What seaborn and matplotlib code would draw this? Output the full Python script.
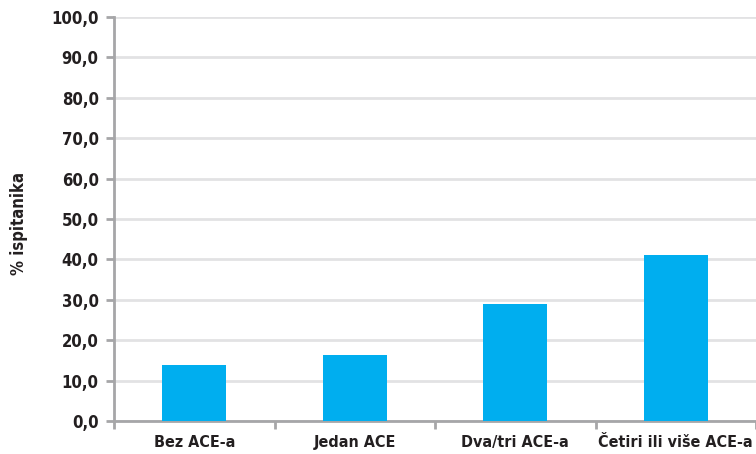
import matplotlib
matplotlib.use("Agg")
import matplotlib.pyplot as plt
import matplotlib.ticker as mticker
import seaborn as sns
import pandas as pd
import numpy as np

categories = ["Bez ACE-a", "Jedan ACE", "Dva/tri ACE-a", "Četiri ili više ACE-a"]
values = [13.9, 16.3, 29.0, 41.1]
y_ticks = [0, 10, 20, 30, 40, 50, 60, 70, 80, 90, 100]
y_label = "% ispitanika"

sns.set_theme(style="white")
plt.rcParams["font.family"] = ["Liberation Sans Narrow", "DejaVu Sans"]
plt.rcParams["font.weight"] = "bold"
plt.rcParams["font.stretch"] = "condensed"

text_color = "#231f20"
bar_color = "#00aeef"
axis_color = "#a6a6a8"
grid_color = "#e2e2e4"

df = pd.DataFrame({"kategorija": categories, "vrijednost": values})

fig = plt.figure(figsize=(7.56, 4.54), dpi=100)
ax = fig.add_axes([0.1508, 0.0727, 0.8492, 0.8899])

sns.barplot(data=df, x="kategorija", y="vrijednost", color=bar_color,
            width=0.4, saturation=1, linewidth=0, ax=ax, zorder=3)

ax.set_xlim(-0.5, 3.5)
ax.set_ylim(0, 100)
ax.set_yticks(y_ticks)
ax.yaxis.set_major_formatter(mticker.FuncFormatter(lambda v, p: f"{v:.1f}".replace(".", ",")))
ax.yaxis.grid(True, color=grid_color, linewidth=2, zorder=0)
ax.set_axisbelow(True)

ax.set_xticks(range(len(categories)))
ax.set_xticks(np.arange(-0.5, 3.6, 1.0), minor=True)
ax.set_xticklabels(categories)
ax.tick_params(axis="x", which="both", bottom=True)
ax.tick_params(axis="y", which="both", left=True)
ax.tick_params(axis="x", which="major", length=0, pad=10, labelsize=11.5, colors=text_color)
ax.tick_params(axis="x", which="minor", length=6, width=2, color=axis_color, direction="out")
ax.tick_params(axis="y", which="major", length=6, width=2, color=axis_color, direction="out",
               pad=5, labelsize=12, labelcolor=text_color)

for lab in ax.get_xticklabels() + ax.get_yticklabels():
    lab.set_fontweight("bold")
    lab.set_fontstretch("condensed")

ax.set_xlabel("")
ax.set_ylabel(y_label, fontsize=12, fontweight="bold", color=text_color,
              fontstretch="condensed")
ax.yaxis.set_label_coords(-0.134, 0.49)

for side in ["top", "right"]:
    ax.spines[side].set_visible(False)
for side in ["left", "bottom"]:
    ax.spines[side].set_color(axis_color)
    ax.spines[side].set_linewidth(2)

fig.savefig("out.png", dpi=100)
